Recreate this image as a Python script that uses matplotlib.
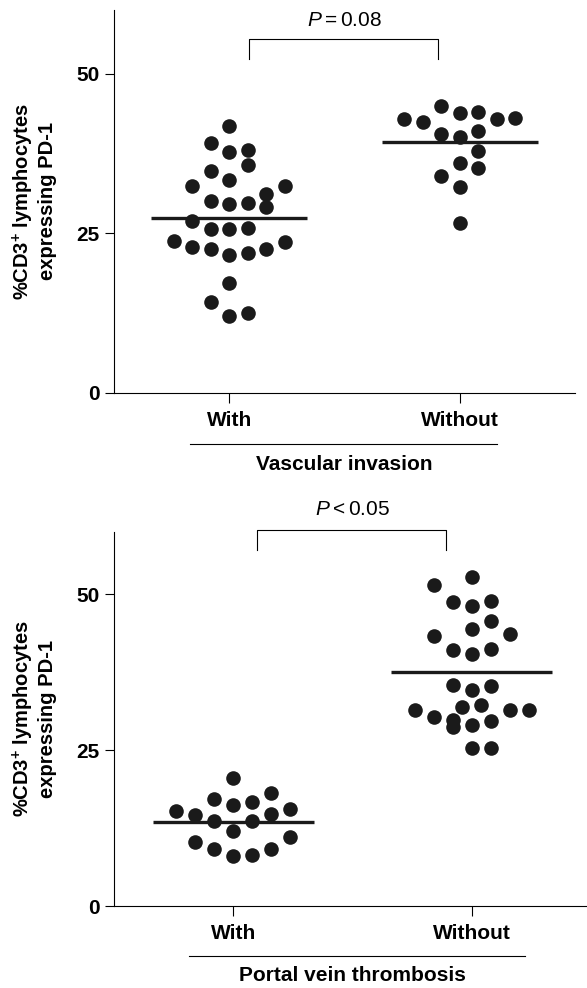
# PD-1 expression on CD3+ lymphocytes, two column scatter panels
import numpy as np
import matplotlib
matplotlib.use('Agg')
import matplotlib.pyplot as plt

plt.rcParams['font.family'] = ['Liberation Sans', 'DejaVu Sans']
plt.rcParams['mathtext.fontset'] = 'custom'
plt.rcParams['mathtext.rm'] = 'Liberation Sans'
plt.rcParams['mathtext.it'] = 'Liberation Sans:italic'
plt.rcParams['mathtext.bf'] = 'Liberation Sans:bold'

# ---- data ----
groups = ['With', 'Without']

# Vascular invasion
vi_with = [41.8, 39.1, 37.8, 38.1, 35.7, 34.7, 33.4, 32.4, 32.4, 31.2,
           30.0, 29.6, 29.7, 29.1, 27.0, 25.7, 25.7, 25.9, 23.8, 23.6,
           22.8, 22.5, 21.6, 21.9, 22.5, 17.2, 14.3, 12.1, 12.5]
vi_with_slot = [0, -1, 0, 1, 1, -1, 0, -2, 3, 2,
                -1, 0, 1, 2, -2, -1, 0, 1, -3, 3,
                -2, -1, 0, 1, 2, 0, -1, 0, 1]
vi_without = [42.9, 42.5, 45.0, 43.8, 44.0, 42.9, 43.1, 40.5, 40.1, 41.1,
              37.9, 36.0, 35.3, 34.0, 32.2, 26.6]
vi_without_slot = [-3, -2, -1, 0, 1, 2, 3, -1, 0, 1,
                   1, 0, 1, -1, 0, 0]

# Portal vein thrombosis
pvt_with = [20.6, 17.2, 16.2, 16.7, 18.1, 15.2, 14.6, 13.6, 13.6, 14.7,
            15.6, 12.1, 10.2, 11.0, 9.1, 8.1, 8.2, 9.2]
pvt_with_slot = [0, -1, 0, 1, 2, -3, -2, -1, 1, 2,
                 3, 0, -2, 3, -1, 0, 1, 2]
pvt_without = [52.8, 51.5, 48.7, 48.2, 49.0, 45.7, 44.4, 43.7, 43.3, 41.0,
               40.4, 41.3, 35.5, 34.7, 35.3, 32.0, 32.3, 31.5, 30.3, 31.4,
               31.5, 29.9, 28.7, 29.0, 29.7, 25.3, 25.3]
pvt_without_slot = [0, -2, -1, 0, 1, 1, 0, 2, -2, -1,
                    0, 1, -1, 0, 1, -0.5, 0.5, -3, -2, 2,
                    3, -1, -1, 0, 1, 0, 1]

p_texts = [r'$\mathit{P}$$\mathrm{=0.08}$', r'$\mathit{P}$$\mathrm{<0.05}$']
xtitles = ['Vascular invasion', 'Portal vein thrombosis']
ylab = '%CD3$\\mathbf{^{+}}$ lymphocytes\nexpressing PD-1'

W, H = 587, 988
fig = plt.figure(figsize=(W / 100, H / 100), dpi=100)

def panel(box, with_y, with_s, wo_y, wo_s, ptxt, title, brk, line_x, ylab_x):
    ax = fig.add_axes(box)
    step = 0.08
    for i, (ys, ss) in enumerate([(with_y, with_s), (wo_y, wo_s)]):
        xs = i + np.array(ss) * step
        ax.plot(xs, ys, 'o', color='#1a1a1a', ms=10.5, mec='none', clip_on=False)
        m = np.mean(ys)
        ax.plot([i - 0.338, i + 0.338], [m, m], color='#1a1a1a', lw=2.4,
                solid_capstyle='butt')
    ax.set_xlim(-0.5, 1.5)
    ax.set_ylim(0, 60)
    ax.set_yticks([0, 25, 50])
    ax.set_xticks([0, 1])
    ax.set_xticklabels(groups)
    for s in ['top', 'right']:
        ax.spines[s].set_visible(False)
    for s in ['left', 'bottom']:
        ax.spines[s].set_linewidth(0.8)
    ax.tick_params(axis='y', length=6.5, width=0.8, pad=4, labelsize=15)
    ax.tick_params(axis='x', length=7, width=0.8, pad=6, labelsize=15)
    for lb in ax.get_xticklabels() + ax.get_yticklabels():
        lb.set_fontweight('bold')
    # significance bracket
    x0, x1, yb, yt, ytxt = brk
    ax.plot([x0, x0, x1, x1], [yb, yt, yt, yb], color='black', lw=0.8, clip_on=False)
    ax.text(0.5, ytxt, ptxt, ha='center', va='center', fontsize=15)
    # group title under the tick labels
    tr = ax.get_xaxis_transform()
    ax.plot(line_x, [-0.134, -0.134], color='black', lw=0.8, transform=tr, clip_on=False)
    ax.text(0.5, -0.186, title, transform=tr, ha='center', va='center',
            fontsize=15, fontweight='bold')
    ax.text(ylab_x, 0.5, ylab, transform=ax.transAxes, rotation=90, ha='center',
            va='center', fontsize=14.5, fontweight='bold', multialignment='center',
            linespacing=1.1)
    return ax

panel([114 / W, 1 - 393 / H, 461 / W, 383 / H],
      vi_with, vi_with_slot, vi_without, vi_without_slot,
      p_texts[0], xtitles[0], (0.084, 0.905, 52.4, 55.5, 58.3),
      [-0.169, 1.162], -0.174)

panel([114 / W, 1 - 906 / H, 477 / W, 374 / H],
      pvt_with, pvt_with_slot, pvt_without, pvt_without_slot,
      p_texts[1], xtitles[1], (0.10, 0.894, 57.1, 60.4, 63.6),
      [-0.186, 1.222], -0.168)

fig.savefig('out.png', dpi=100)
